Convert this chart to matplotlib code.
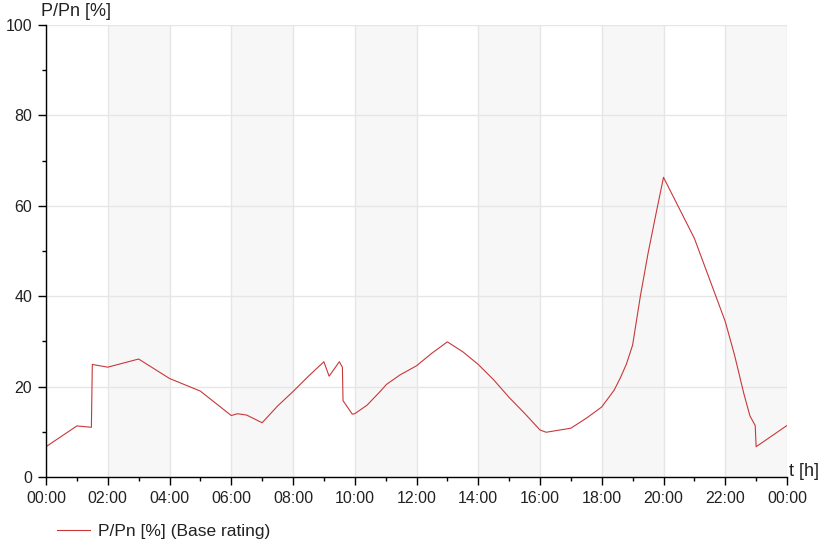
import matplotlib
matplotlib.use("Agg")
import matplotlib.pyplot as plt
from matplotlib.ticker import MultipleLocator, FuncFormatter

plt.rcParams['font.family'] = ['Liberation Sans', 'DejaVu Sans']
plt.rcParams['font.size'] = 11.5

# load profile over one day, hours since midnight
hours = [0.0, 1.0, 1.47, 1.5, 2.0, 3.0, 4.0, 5.0, 6.0, 6.2, 6.5, 7.0, 7.5, 8.0,
         8.5, 9.0, 9.17, 9.5, 9.6, 9.62, 9.92, 10.0, 10.4, 10.82, 11.03, 11.47,
         12.0, 12.5, 13.0, 13.5, 14.0, 14.5, 15.0, 15.5, 16.0, 16.2, 17.0, 17.5,
         18.0, 18.4, 18.6, 18.8, 19.0, 19.25, 19.5, 19.75, 20.0, 21.0, 22.0,
         22.3, 22.6, 22.8, 22.97, 23.0, 24.0]
load_pct = [6.7, 11.3, 11.0, 24.9, 24.3, 26.1, 21.8, 19.0, 13.6, 14.0, 13.7, 12.0,
            15.7, 18.9, 22.3, 25.5, 22.3, 25.5, 24.3, 16.9, 13.9, 14.0, 15.9,
            18.9, 20.5, 22.6, 24.6, 27.4, 29.9, 27.7, 24.9, 21.5, 17.6, 14.1,
            10.4, 9.9, 10.8, 13.0, 15.5, 19.2, 21.9, 25.0, 29.2, 40.0, 49.5,
            58.0, 66.3, 52.8, 34.4, 27.0, 18.5, 13.5, 11.4, 6.7, 11.4]
series_name = "P/Pn [%] (Base rating)"

fig = plt.figure(figsize=(8.26, 5.47), dpi=100)
ax = fig.add_axes([46/826, 1-477/547, (787-46)/826, (477-25)/547])

# alternating shaded 2h bands
for start in range(2, 24, 4):
    ax.axvspan(start, start + 2, color='#f7f7f7', zorder=0, lw=0)

ax.plot(hours, load_pct, color='#c8383a', lw=0.8, label=series_name, zorder=3)

ax.set_xlim(0, 24)
ax.set_ylim(0, 100)
ax.xaxis.set_major_locator(MultipleLocator(2))
ax.xaxis.set_minor_locator(MultipleLocator(1))
ax.yaxis.set_major_locator(MultipleLocator(20))
ax.yaxis.set_minor_locator(MultipleLocator(10))
ax.xaxis.set_major_formatter(FuncFormatter(lambda v, p: "%02d:00" % (int(round(v)) % 24)))

ax.grid(True, which='major', color='#e6e6e6', lw=1, zorder=1)
ax.set_axisbelow(True)
for side in ('top', 'right'):
    ax.spines[side].set_visible(False)
for side in ('left', 'bottom'):
    ax.spines[side].set_color('black')
    ax.spines[side].set_linewidth(1)
    ax.spines[side].set_zorder(4)

ax.tick_params(which='major', length=6, width=1, colors='black', labelcolor='#222222',
               labelsize=11.5, pad=4)
ax.tick_params(which='minor', length=3, width=1, colors='black')

fig.text(41/826, 1-12/547, "P/Pn [%]", va='center', ha='left', fontsize=13, color='#222222')
fig.text(789/826, 1-471/547, "t [h]", va='center', ha='left', fontsize=13, color='#222222')

fig.legend(loc='center left', bbox_to_anchor=(41/826, 1-531/547), frameon=False,
           handlelength=1.9, handletextpad=0.5, fontsize=12.5, labelcolor='#222222')

fig.savefig("out.png", dpi=100)
